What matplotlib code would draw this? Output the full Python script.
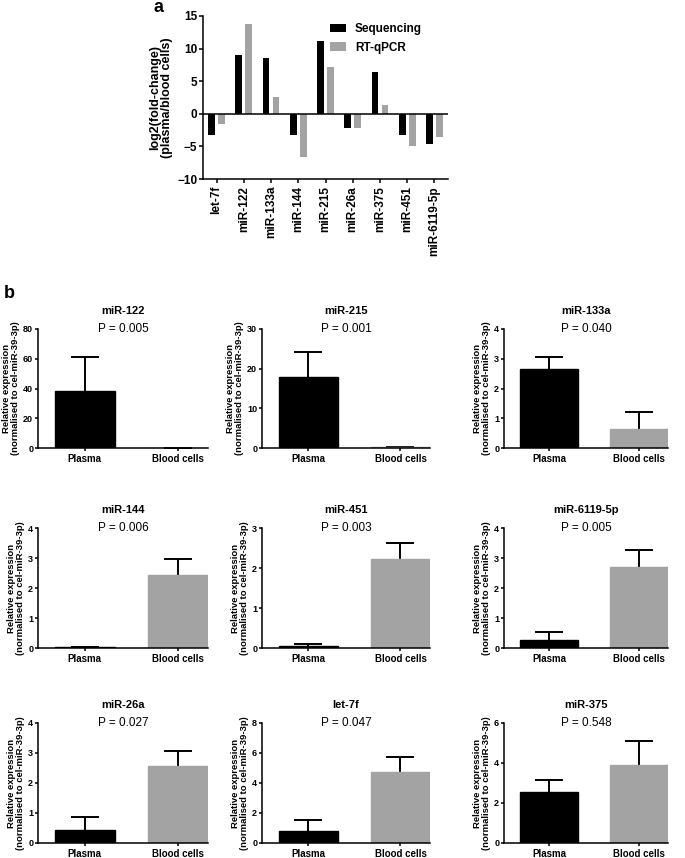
import matplotlib
matplotlib.use('Agg')
import numpy as np
import matplotlib.pyplot as plt

plt.rcParams['font.family'] = ['Liberation Sans', 'DejaVu Sans']
plt.rcParams['axes.linewidth'] = 1.1

#%% data
# panel a: log2 fold change plasma / blood cells
mirs_a = ['let-7f', 'miR-122', 'miR-133a', 'miR-144', 'miR-215', 'miR-26a',
          'miR-375', 'miR-451', 'miR-6119-5p']
seq = [-3.25, 8.95, 8.5, -3.25, 11.1, -2.25, 6.35, -3.25, -4.6]
qpcr = [-1.6, 13.7, 2.5, -6.6, 7.2, -2.25, 1.35, -5.0, -3.5]

# panel b: relative expression, mean and upper error
b_names = ['miR-122', 'miR-215', 'miR-133a', 'miR-144', 'miR-451', 'miR-6119-5p',
           'miR-26a', 'let-7f', 'miR-375']
p_vals = ['0.005', '0.001', '0.040', '0.006', '0.003', '0.005', '0.027', '0.047', '0.548']
plasma_mean = [38, 18, 2.65, 0.02, 0.04, 0.26, 0.44, 0.77, 2.53]
plasma_err = [23.5, 6.2, 0.42, 0.0, 0.05, 0.27, 0.42, 0.77, 0.64]
blood_mean = [0.1, 0.25, 0.65, 2.42, 2.23, 2.71, 2.56, 4.71, 3.9]
blood_err = [0.0, 0.0, 0.55, 0.54, 0.4, 0.57, 0.52, 1.02, 1.2]
y_max = [80, 30, 4, 4, 3, 4, 4, 8, 6]
y_step = [20, 10, 1, 1, 1, 1, 1, 2, 2]
groups = ['Plasma', 'Blood cells']

GREY = '#a3a3a3'
W, H = 685, 858
fig = plt.figure(figsize=(W / 100, H / 100), dpi=100)


def px_axes(l, t, r, b):
    return fig.add_axes([l / W, 1 - b / H, (r - l) / W, (b - t) / H])


#%% panel a
ax = px_axes(203, 16, 448, 179)
x = np.arange(len(mirs_a))
bw = 0.25
ax.bar(x - 0.185, seq, bw, color='black', label='Sequencing')
ax.bar(x + 0.185, qpcr, bw, color=GREY, label='RT-qPCR')
ax.axhline(0, color='black', lw=1.1)
ax.set_xlim(-0.5, 8.5)
ax.set_ylim(-10, 15)
ax.set_yticks([-10, -5, 0, 5, 10, 15])
ax.set_xticks(x)
ax.set_xticklabels(mirs_a, rotation=90, fontsize=8.5, fontweight='bold')
for lab in ax.get_yticklabels():
    lab.set_fontweight('bold')
ax.tick_params(axis='y', labelsize=8.5, length=3, width=1.1, pad=1)
ax.tick_params(axis='x', length=3, width=1.1, pad=2)
ax.spines['top'].set_visible(False)
ax.spines['right'].set_visible(False)
ax.set_ylabel('log2(fold-change)\n(plasma/blood cells)', fontsize=9,
              fontweight='bold', labelpad=3, linespacing=1.0)
leg = ax.legend(loc='upper left', bbox_to_anchor=(0.5, 0.985), frameon=False,
                fontsize=8.5, handlelength=1.3, handleheight=0.7,
                handletextpad=0.8, labelspacing=0.55, borderaxespad=0)
for t in leg.get_texts():
    t.set_fontweight('bold')
fig.text(158 / W, 1 - 8 / H, 'a', fontsize=13, fontweight='bold',
         ha='center', va='center')

#%% panel b
cols = [(38, 208), (262, 430), (504, 668)]
rows = [(329, 448), (528, 648), (723, 843)]
w = 0.64
for i, name in enumerate(b_names):
    l, r = cols[i % 3]
    t, b = rows[i // 3]
    ax = px_axes(l, t, r, b)
    ax.bar([0, 1], [plasma_mean[i], blood_mean[i]], w,
           color=['black', GREY], edgecolor=['black', GREY], zorder=2)
    eb = ax.errorbar([0, 1], [plasma_mean[i], blood_mean[i]],
                     yerr=[[0, 0], [plasma_err[i], blood_err[i]]],
                     fmt='none', ecolor='black', elinewidth=1.4,
                     capsize=10, capthick=1.4, zorder=1)
    eb[1][0].set_visible(False)
    ax.set_xlim(-0.5, 1 + w / 2)
    ax.set_ylim(0, y_max[i])
    ax.set_yticks(np.arange(0, y_max[i] + 0.001, y_step[i]))
    ax.set_xticks([0, 1])
    ax.set_xticklabels(groups, fontsize=7, fontweight='bold')
    for lab in ax.get_yticklabels():
        lab.set_fontweight('bold')
    ax.tick_params(axis='y', labelsize=6.5, length=2.5, width=1.1, pad=1)
    ax.tick_params(axis='x', length=2.5, width=1.1, pad=2)
    ax.spines['top'].set_visible(False)
    ax.spines['right'].set_visible(False)
    ax.set_ylabel('Relative expression\n(normalised to cel-miR-39-3p)',
                  fontsize=6.8, fontweight='bold', labelpad=2, linespacing=1.05)
    ax.set_title(name, fontsize=8, fontweight='bold', pad=11)
    ax.text(0.5, 1.0, 'P = ' + p_vals[i], transform=ax.transAxes,
            ha='center', va='center', fontsize=8.5)

fig.text(9 / W, 1 - 293 / H, 'b', fontsize=13, fontweight='bold',
         ha='center', va='center')

fig.savefig('out.png', dpi=100)
